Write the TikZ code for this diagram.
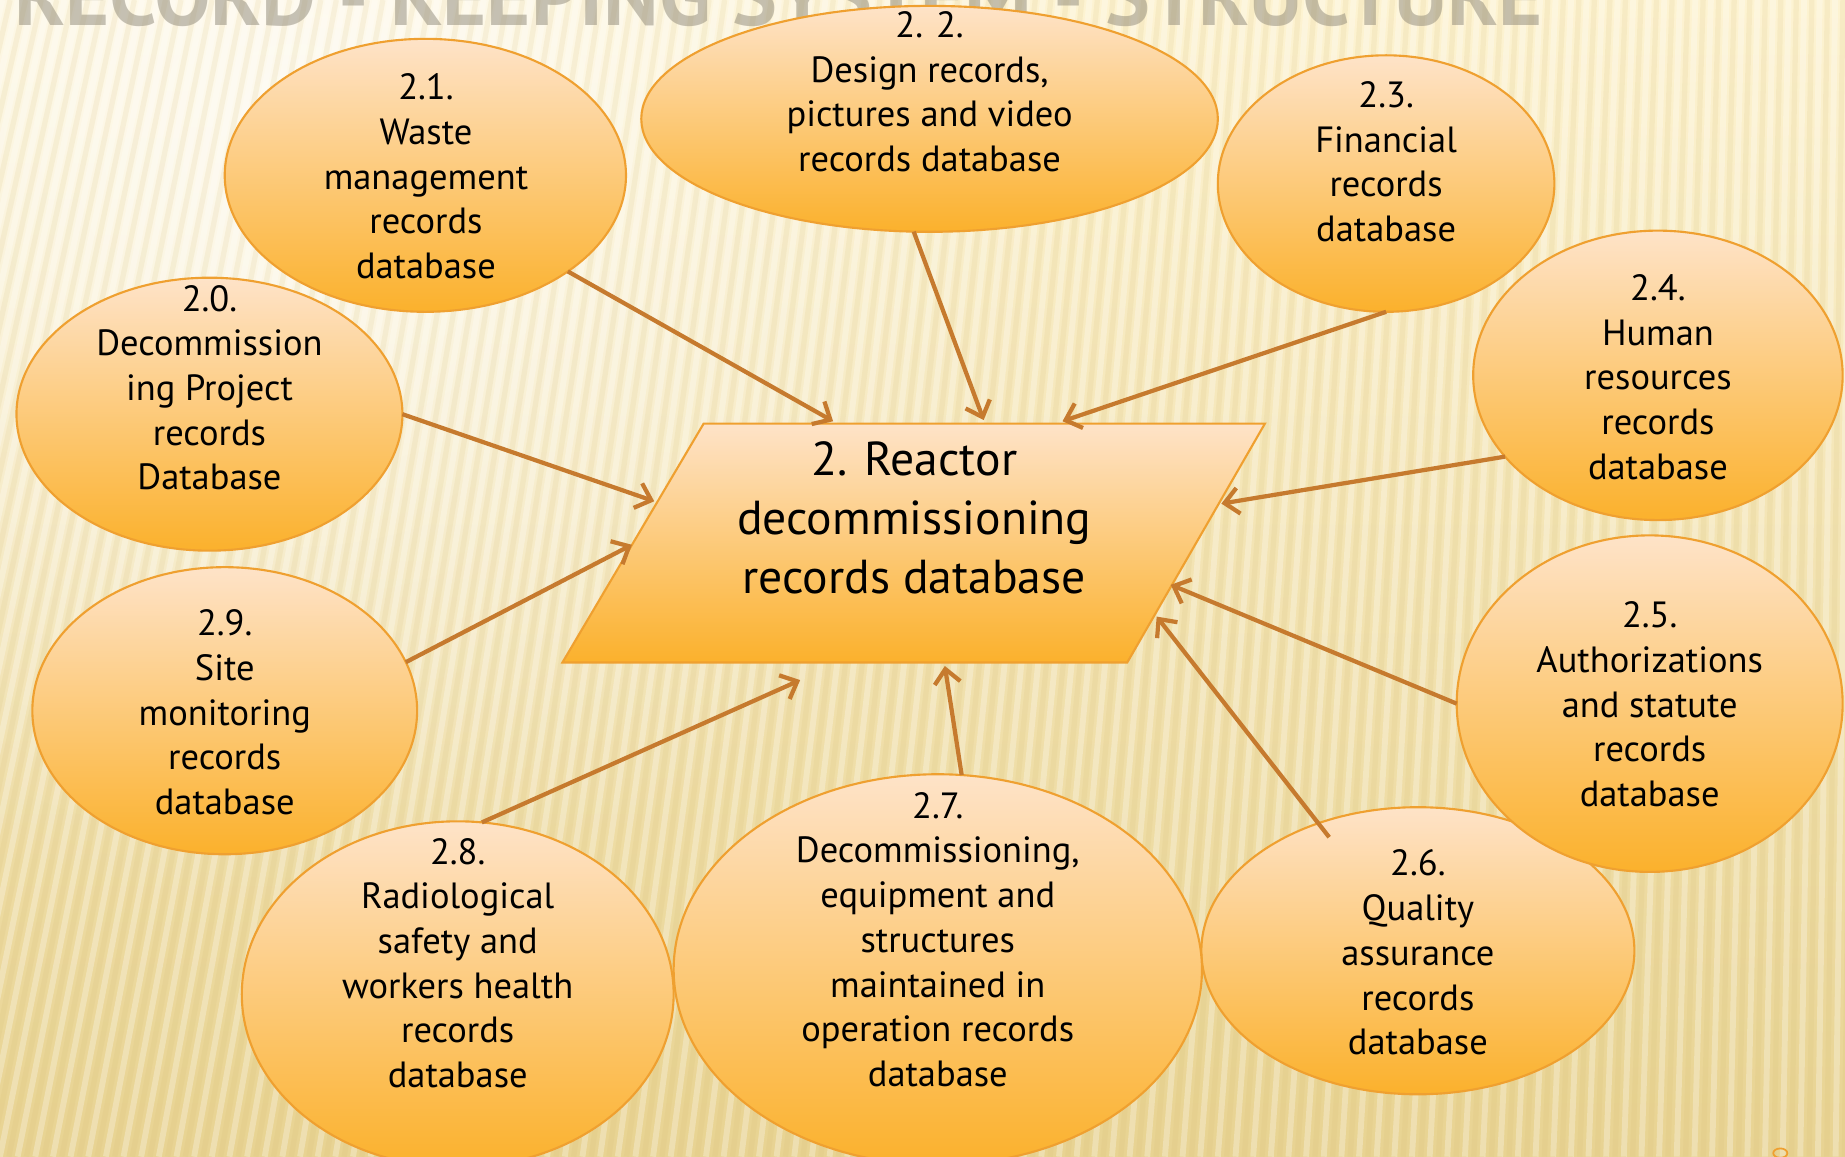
\documentclass[tikz,border=0pt]{standalone}
\usepackage{fontspec}
\setmainfont{PT Sans}
\usetikzlibrary{shapes.geometric,arrows.meta,fadings}
\tikzfading[name=glowfade, inner color=transparent!0, outer color=transparent!100]
\definecolor{bgtop}{HTML}{FDF3D2}
\definecolor{bgbot}{HTML}{E8D392}
\definecolor{stripec}{HTML}{D2B96E}
\definecolor{elltop}{HTML}{FEE3C8}
\definecolor{ellbot}{HTML}{FBB12C}
\definecolor{ellline}{HTML}{EFA030}
\definecolor{arrowc}{HTML}{C67A2E}
\definecolor{titlec}{HTML}{8E8878}
\begin{document}
\begin{tikzpicture}[x=1bp,y=-1bp,
  db/.style={ellipse, inner sep=0pt, outer sep=0pt, draw=ellline, line width=1.8bp, top color=elltop, bottom color=ellbot},
  lbl/.style={align=center, font=\fontsize{31bp}{38bp}\selectfont, inner sep=0pt, text=black},
  biglbl/.style={align=center, font=\fontsize{40.5bp}{50bp}\selectfont, inner sep=0pt, text=black},
  feed/.style={draw=arrowc, line width=3.6bp, -{Straight Barb[length=12bp,width=22bp]}},
]
\useasboundingbox (0,0) rectangle (1568,983);
% background
\shade[top color=bgtop, bottom color=bgbot] (0,0) rectangle (1568,983);
\begin{scope}
  \clip (0,0) rectangle (1568,983);
  \fill[white, path fading=glowfade, opacity=0.7] (250,120) circle (650);
  \foreach \i in {-20,...,110} {
    \pgfmathsetmacro{\xb}{\i*15}
    \pgfmathsetmacro{\xt}{\xb + 200 - 0.12*\xb}
    \pgfmathsetmacro{\xbb}{\xb + 7.5}
    \pgfmathsetmacro{\xtt}{\xbb + 200 - 0.12*\xbb}
    \draw[white, opacity=0.28, line width=5bp] (\xb,983) -- (\xt,0);
    \draw[stripec, opacity=0.13, line width=4.5bp] (\xbb,983) -- (\xtt,0);
  }
\end{scope}
% cut-off title
\begin{scope}
  \clip (0,0) rectangle (1568,23);
  \node[font=\fontsize{72bp}{72bp}\selectfont\bfseries, text=titlec, opacity=0.5, anchor=base west, inner sep=0pt] (title) at (12,22) {RECORD - KEEPING SYSTEM - STRUCTURE};
\end{scope}
% ellipses
\node[db, minimum width=341bp, minimum height=232bp] (e1) at (361.5,149) {};
\node[db, minimum width=328bp, minimum height=232bp] (e0) at (178,352) {};
\node[db, minimum width=490bp, minimum height=192bp] (e2) at (790,101) {};
\node[db, minimum width=286bp, minimum height=218bp] (e3) at (1178,156) {};
\node[db, minimum width=314bp, minimum height=246bp] (e4) at (1409,319) {};
\node[db, minimum width=368bp, minimum height=244bp] (e6) at (1205,808) {};
\node[db, minimum width=328bp, minimum height=286bp] (e5) at (1402,598) {};
\node[db, minimum width=327bp, minimum height=244bp] (e9) at (191,604) {};
\node[db, minimum width=367bp, minimum height=294bp] (e8) at (389,845) {};
\node[db, minimum width=449bp, minimum height=332bp] (e7) at (797,824) {};
% central parallelogram
\shade[top color=elltop, bottom color=ellbot, draw=ellline, line width=1.8bp]
  (598,360) -- (1075,360) -- (958,563) -- (478,563) -- cycle;
% labels
\node[lbl] (t0) at (178,329.5) {2.0.\\Decommission\\ing Project\\records\\Database};
\node[lbl] (t1) at (362,150) {2.1.\\Waste\\management\\records\\database};
\node[lbl] (t2) at (790,78) {2. 2.\\Design records,\\pictures and video\\records database};
\node[lbl] (t3) at (1178,137.5) {2.3.\\Financial\\records\\database};
\node[lbl] (t4) at (1409,320.5) {2.4.\\Human\\resources\\records\\database};
\node[lbl] (t5) at (1402,598.5) {2.5.\\Authorizations\\and statute\\records\\database};
\node[lbl] (t6) at (1205,809.5) {2.6.\\Quality\\assurance\\records\\database};
\node[lbl] (t7) at (797,798.5) {2.7.\\Decommissioning,\\equipment and\\structures\\maintained in\\operation records\\database};
\node[lbl] (t8) at (389,818.5) {2.8.\\Radiological\\safety and\\workers health\\records\\database};
\node[lbl] (t9) at (191,605.5) {2.9.\\Site\\monitoring\\records\\database};
\node[biglbl] (tc) at (777,440) {2. Reactor\\decommissioning\\records database};
% arrow targets on the central shape
\coordinate (a1) at (708,358);
\coordinate (a2) at (836,357);
\coordinate (a3) at (903,358);
\coordinate (a4) at (1038,428);
\coordinate (a5) at (556,426);
\coordinate (a6) at (537,463);
\coordinate (a7) at (680,578);
\coordinate (a8) at (803,566);
\coordinate (a9) at (983,524);
\coordinate (a10) at (995,497);
% connectors
\draw[feed] (e1.-34) -- (a1);
\draw[feed] (e2.-98) -- (a2);
\draw[feed] (e3.-90) -- (a3);
\draw[feed] (e4.-152) -- (a4);
\draw[feed] (e0.0) -- (a5);
\draw[feed] (e9.15) -- (a6);
\draw[feed] (e8.82) -- (a7);
\draw[feed] (e7.83) -- (a8);
\draw[feed, shorten <=-15bp] (e6.128) -- (a9);
\draw[feed] (e5.180) -- (a10);
% cut-off slide number
\draw[ellline, line width=1.5bp] (1513,980) ellipse [x radius=6, y radius=4];
\end{tikzpicture}
\end{document}
